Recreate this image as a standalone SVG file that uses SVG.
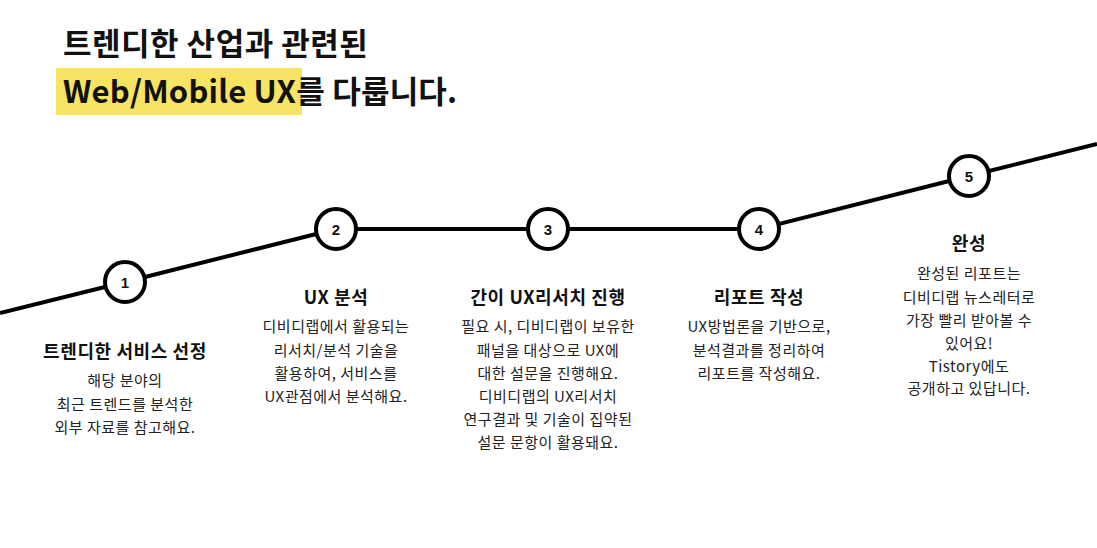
<svg xmlns="http://www.w3.org/2000/svg" width="1097" height="548" viewBox="0 0 1097 548">
<style>
.h{font-family:"Noto Sans CJK KR","Noto Sans",sans-serif;font-weight:700;font-size:31px;letter-spacing:0.5px;fill:#111}
.t{font-family:"Noto Sans CJK KR","Noto Sans",sans-serif;font-weight:700;font-size:18px;letter-spacing:0.6px;fill:#111;text-anchor:middle}
.b{font-family:"Noto Sans CJK KR","Noto Sans",sans-serif;font-size:15px;letter-spacing:0.5px;fill:#222;text-anchor:middle}
.n{font-family:"Liberation Sans","Noto Sans",sans-serif;font-weight:700;font-size:15px;fill:#111;text-anchor:middle}
.c{fill:#fff;stroke:#000;stroke-width:4}
.ln{fill:none;stroke:#000;stroke-width:4}
</style>
<rect width="1097" height="548" fill="#fff"/>
<g id="heading">
<rect x="56" y="68" width="246" height="47" fill="#f7e463"/>
<text class="h" x="63" y="55">트렌디한 산업과 관련된</text>
<text class="h" x="63" y="103" style="letter-spacing:0.2px">Web/Mobile UX를 다룹니다.</text>
</g>
<g id="connectors">
<polyline class="ln" points="0,313 125,282 336,229 759,229 969,176 1097,144"/>
</g>
<g id="step1">
<circle class="c" cx="125" cy="282" r="20"/>
<text class="n" x="125" y="287.5">1</text>
<text class="t" x="125" y="358">트렌디한 서비스 선정</text>
<text class="b" x="125" y="386">해당 분야의</text>
<text class="b" x="125" y="410">최근 트렌드를 분석한</text>
<text class="b" x="125" y="433">외부 자료를 참고해요.</text>
</g>
<g id="step2">
<circle class="c" cx="336" cy="229" r="20"/>
<text class="n" x="336" y="234.5">2</text>
<text class="t" x="336" y="304">UX 분석</text>
<text class="b" x="336" y="332">디비디랩에서 활용되는</text>
<text class="b" x="336" y="356">리서치/분석 기술을</text>
<text class="b" x="336" y="379">활용하여, 서비스를</text>
<text class="b" x="336" y="402">UX관점에서 분석해요.</text>
</g>
<g id="step3">
<circle class="c" cx="548" cy="229" r="20"/>
<text class="n" x="548" y="234.5">3</text>
<text class="t" x="548" y="304">간이 UX리서치 진행</text>
<text class="b" x="548" y="332">필요 시, 디비디랩이 보유한</text>
<text class="b" x="548" y="356">패널을 대상으로 UX에</text>
<text class="b" x="548" y="379">대한 설문을 진행해요.</text>
<text class="b" x="548" y="402">디비디랩의 UX리서치</text>
<text class="b" x="548" y="425">연구결과 및 기술이 집약된</text>
<text class="b" x="548" y="448">설문 문항이 활용돼요.</text>
</g>
<g id="step4">
<circle class="c" cx="759" cy="229" r="20"/>
<text class="n" x="759" y="234.5">4</text>
<text class="t" x="759" y="304">리포트 작성</text>
<text class="b" x="759" y="332">UX방법론을 기반으로,</text>
<text class="b" x="759" y="356">분석결과를 정리하여</text>
<text class="b" x="759" y="379">리포트를 작성해요.</text>
</g>
<g id="step5">
<circle class="c" cx="969" cy="176" r="20"/>
<text class="n" x="969" y="181.5">5</text>
<text class="t" x="969" y="250">완성</text>
<text class="b" x="969" y="279">완성된 리포트는</text>
<text class="b" x="969" y="303">디비디랩 뉴스레터로</text>
<text class="b" x="969" y="326">가장 빨리 받아볼 수</text>
<text class="b" x="969" y="349">있어요!</text>
<text class="b" x="969" y="372">Tistory에도</text>
<text class="b" x="969" y="394">공개하고 있답니다.</text>
</g>
</svg>
